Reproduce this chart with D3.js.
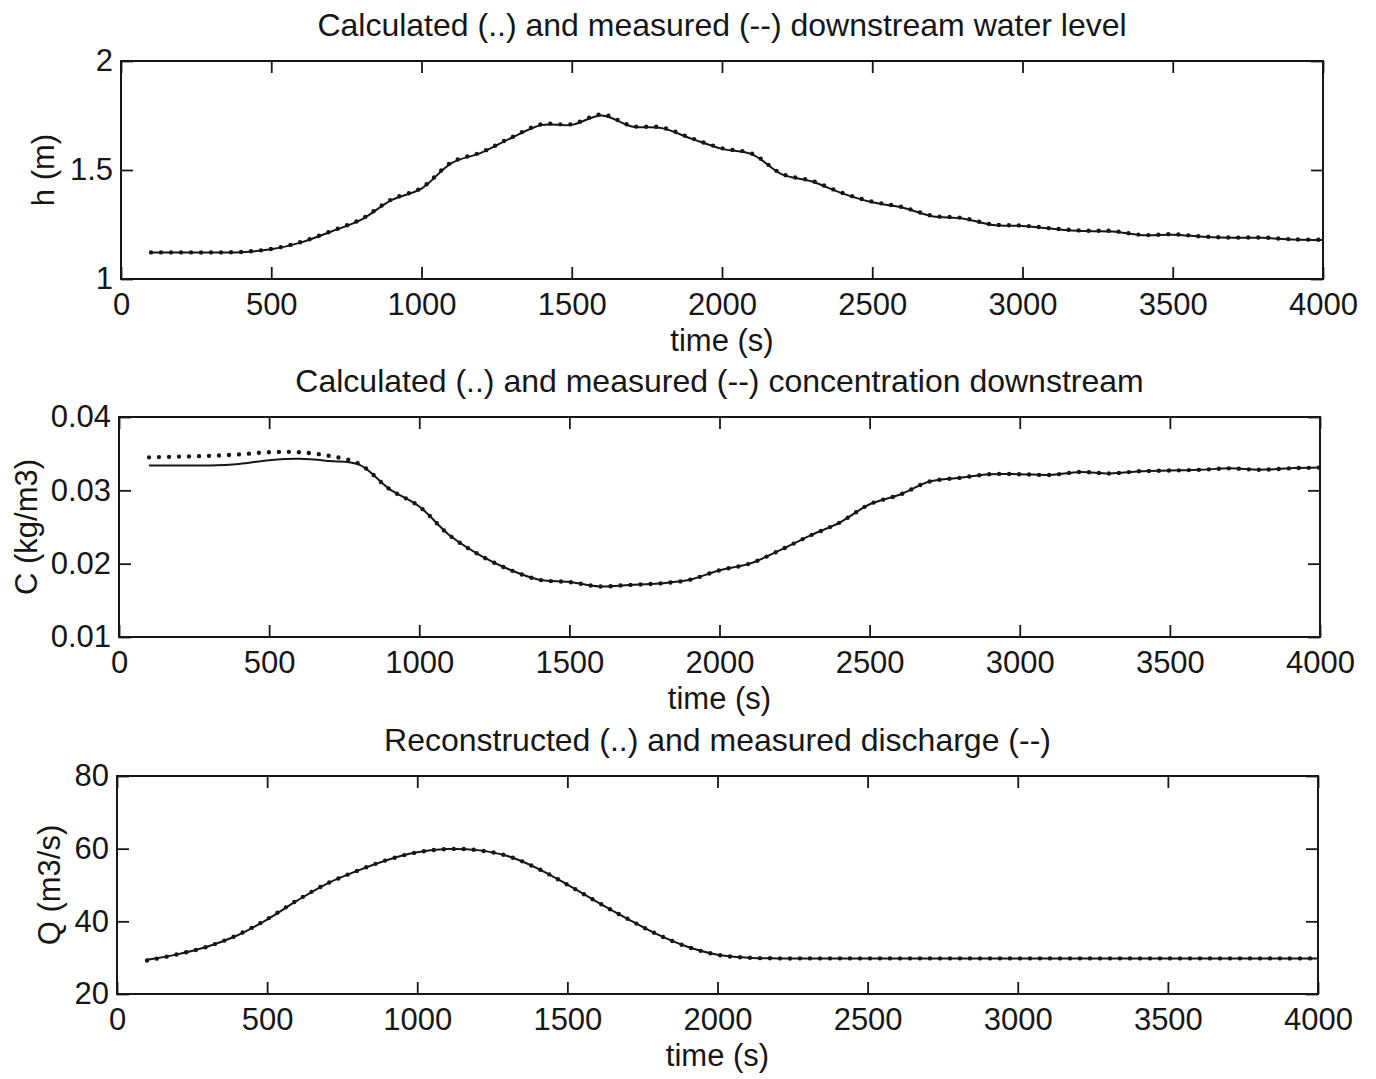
<!DOCTYPE html>
<html>
<head>
<meta charset="utf-8">
<script src="https://cdn.jsdelivr.net/npm/d3@7"></script>
<style>
  html, body { margin: 0; padding: 0; background: #fff; }
  svg { display: block; }
  text { font-family: "Liberation Sans", Arial, sans-serif; fill: #161616; }
</style>
</head>
<body>
<div id="main"></div>
<script>
"use strict";

// sample times (s), shared by every series
const timeS = [100, 200, 300, 400, 500, 600, 700, 800, 900, 1000,
    1100, 1200, 1300, 1400, 1500, 1600, 1700, 1800, 1900, 2000,
    2100, 2200, 2300, 2400, 2500, 2600, 2700, 2800, 2900, 3000,
    3100, 3200, 3300, 3400, 3500, 3600, 3700, 3800, 3900, 4000];

// downstream water level h (m)
const levelCalc = [1.122, 1.122, 1.122, 1.124, 1.138, 1.170, 1.220, 1.275, 1.365, 1.418,
    1.535, 1.582, 1.650, 1.710, 1.710, 1.755, 1.702, 1.695, 1.645, 1.600,
    1.575, 1.482, 1.450, 1.395, 1.355, 1.330, 1.290, 1.280, 1.250, 1.245,
    1.232, 1.222, 1.220, 1.202, 1.205, 1.195, 1.190, 1.190, 1.182, 1.180];
const levelMeas = [1.122, 1.122, 1.122, 1.123, 1.136, 1.168, 1.218, 1.272, 1.362, 1.415,
    1.532, 1.580, 1.648, 1.706, 1.707, 1.750, 1.700, 1.692, 1.643, 1.597,
    1.572, 1.480, 1.447, 1.393, 1.352, 1.328, 1.288, 1.278, 1.248, 1.243,
    1.230, 1.220, 1.218, 1.201, 1.203, 1.194, 1.189, 1.189, 1.181, 1.179];

// downstream concentration C (kg/m3)
const concCalc = [0.0345, 0.0346, 0.0347, 0.0349, 0.0352, 0.0352, 0.0347, 0.0336, 0.0302, 0.0278,
    0.0239, 0.0212, 0.0192, 0.0178, 0.0175, 0.0169, 0.0171, 0.0173, 0.0178, 0.0191,
    0.0200, 0.0218, 0.0238, 0.0256, 0.0281, 0.0294, 0.0312, 0.0317, 0.0322, 0.0322,
    0.0321, 0.0325, 0.0323, 0.0326, 0.0327, 0.0328, 0.0330, 0.0328, 0.0330, 0.0331];
const concMeas = [0.0334, 0.0334, 0.0334, 0.0336, 0.0341, 0.0343, 0.0340, 0.0335, 0.0302, 0.0278,
    0.0239, 0.0212, 0.0192, 0.0178, 0.0175, 0.0169, 0.0171, 0.0173, 0.0178, 0.0191,
    0.0200, 0.0218, 0.0238, 0.0256, 0.0281, 0.0294, 0.0312, 0.0317, 0.0322, 0.0322,
    0.0321, 0.0325, 0.0323, 0.0326, 0.0327, 0.0328, 0.0330, 0.0328, 0.0330, 0.0331];

// discharge Q (m3/s)
const dischCalc = [29.2, 30.9, 33.0, 36.2, 40.6, 45.8, 50.4, 53.9, 56.9, 59.0,
    59.9, 59.6, 58.0, 54.6, 50.1, 45.3, 40.7, 36.4, 33.0, 30.8,
    30.0, 29.8, 29.8, 29.8, 29.8, 29.8, 29.8, 29.8, 29.8, 29.8,
    29.8, 29.8, 29.8, 29.8, 29.8, 29.8, 29.8, 29.8, 29.8, 29.8];
const dischMeas = [29.4, 30.9, 33.0, 36.1, 40.5, 45.7, 50.4, 53.9, 56.9, 59.0,
    59.9, 59.6, 58.0, 54.6, 50.1, 45.3, 40.7, 36.4, 33.0, 30.8,
    30.0, 29.8, 29.8, 29.8, 29.8, 29.8, 29.8, 29.8, 29.8, 29.8,
    29.8, 29.8, 29.8, 29.8, 29.8, 29.8, 29.8, 29.8, 29.8, 29.8];

// tick labels
const timeTicks = [0, 500, 1000, 1500, 2000, 2500, 3000, 3500, 4000];
const levelTicks = [1, 1.5, 2];
const concTicks = [0.01, 0.02, 0.03, 0.04];
const dischTicks = [20, 40, 60, 80];

const panels = [
    { title: "Calculated (..) and measured (--) downstream water level", ylabel: "h (m)",
      calc: levelCalc, meas: levelMeas, domain: [1, 2], ticks: levelTicks,
      left: 121, right: 1323, top: 61, bottom: 279, ylabelX: 54 },
    { title: "Calculated (..) and measured (--) concentration downstream", ylabel: "C (kg/m3)",
      calc: concCalc, meas: concMeas, domain: [0.01, 0.04], ticks: concTicks,
      left: 119, right: 1320, top: 417, bottom: 637, ylabelX: 37 },
    { title: "Reconstructed (..) and measured discharge (--)", ylabel: "Q (m3/s)",
      calc: dischCalc, meas: dischMeas, domain: [20, 80], ticks: dischTicks,
      left: 117, right: 1318, top: 776, bottom: 994, ylabelX: 60 }
];

const ink = "#161616";
const fontSize = 31;
const tickLen = 12;

const svg = d3.select("#main").append("svg")
    .attr("width", 1376)
    .attr("height", 1079);

function drawPanel(p) {
    const w = p.right - p.left;
    const h = p.bottom - p.top;
    const x = d3.scaleLinear().domain([0, 4000]).range([0, w]);
    const y = d3.scaleLinear().domain(p.domain).range([h, 0]);
    const fmt = d => String(d);

    const g = svg.append("g").attr("transform", `translate(${p.left},${p.top})`);

    // inward ticks on all four sides, labels only bottom and left
    const bottomAxis = d3.axisBottom(x).tickValues(timeTicks).tickFormat(fmt)
        .tickSizeInner(-tickLen).tickSizeOuter(0).tickPadding(14);
    const topAxis = d3.axisTop(x).tickValues(timeTicks).tickFormat("")
        .tickSizeInner(-tickLen).tickSizeOuter(0);
    const leftAxis = d3.axisLeft(y).tickValues(p.ticks).tickFormat(fmt)
        .tickSizeInner(-tickLen).tickSizeOuter(0).tickPadding(8);
    const rightAxis = d3.axisRight(y).tickValues(p.ticks).tickFormat("")
        .tickSizeInner(-tickLen).tickSizeOuter(0);

    g.append("g").attr("transform", `translate(0,${h})`).call(bottomAxis);
    g.append("g").call(topAxis);
    g.append("g").call(leftAxis);
    g.append("g").attr("transform", `translate(${w},0)`).call(rightAxis);

    g.selectAll(".domain").remove();
    g.selectAll(".tick line").attr("stroke", ink).attr("stroke-width", 1.8);
    g.selectAll(".tick text")
        .attr("font-family", "Liberation Sans, Arial, sans-serif")
        .attr("font-size", fontSize)
        .attr("fill", ink);

    // box
    g.append("rect")
        .attr("width", w)
        .attr("height", h)
        .attr("fill", "none")
        .attr("stroke", ink)
        .attr("stroke-width", 2);

    const rowsCalc = timeS.map((t, i) => [t, p.calc[i]]);
    const rowsMeas = timeS.map((t, i) => [t, p.meas[i]]);
    const line = d3.line()
        .x(d => x(d[0]))
        .y(d => y(d[1]))
        .curve(d3.curveCatmullRom.alpha(0.5));

    // measured: solid
    g.append("path")
        .attr("d", line(rowsMeas))
        .attr("fill", "none")
        .attr("stroke", ink)
        .attr("stroke-width", 2);

    // calculated: dotted
    g.append("path")
        .attr("d", line(rowsCalc))
        .attr("fill", "none")
        .attr("stroke", ink)
        .attr("stroke-width", 4.4)
        .attr("stroke-linecap", "round")
        .attr("stroke-dasharray", "0 10");

    // title
    svg.append("text")
        .attr("x", (p.left + p.right) / 2)
        .attr("y", p.top - 25)
        .attr("text-anchor", "middle")
        .attr("font-size", fontSize + 1)
        .text(p.title);

    // x label
    svg.append("text")
        .attr("x", (p.left + p.right) / 2)
        .attr("y", p.bottom + 72)
        .attr("text-anchor", "middle")
        .attr("font-size", fontSize)
        .text("time (s)");

    // y label
    svg.append("text")
        .attr("transform", `translate(${p.ylabelX},${(p.top + p.bottom) / 2}) rotate(-90)`)
        .attr("text-anchor", "middle")
        .attr("font-size", fontSize)
        .text(p.ylabel);
}

panels.forEach(drawPanel);
</script>
</body>
</html>
